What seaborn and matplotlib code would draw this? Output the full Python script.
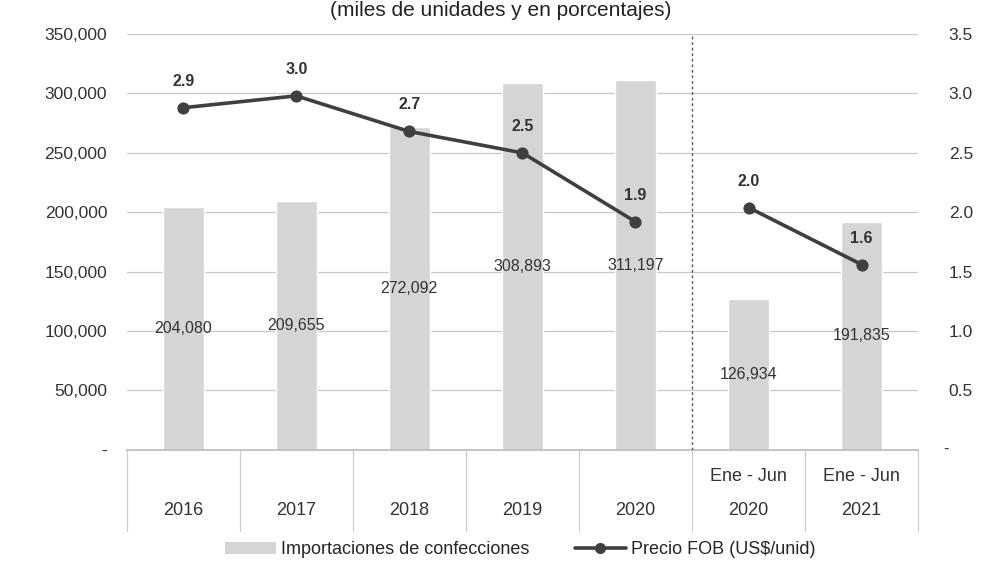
import pandas as pd
import matplotlib.pyplot as plt
import seaborn as sns
from matplotlib.lines import Line2D
from matplotlib.patches import Patch

sns.set_theme(style="white")
plt.rcParams['font.family'] = ['Liberation Sans', 'DejaVu Sans']

# datos
periodos = ['2016', '2017', '2018', '2019', '2020', 'Ene - Jun\n2020', 'Ene - Jun\n2021']
anios = ['2016', '2017', '2018', '2019', '2020', '2020', '2021']
subtitulos = ['', '', '', '', '', 'Ene - Jun', 'Ene - Jun']
importaciones = [204080, 209655, 272092, 308893, 311197, 126934, 191835]
precio_fob = [2.88, 2.98, 2.68, 2.50, 1.92, 2.04, 1.56]
tramo = ['anual', 'anual', 'anual', 'anual', 'anual', 'semestral', 'semestral']

df = pd.DataFrame({'periodo': periodos, 'importaciones': importaciones,
                   'precio': precio_fob, 'tramo': tramo})
df['pos'] = range(len(df))

fig = plt.figure(figsize=(9.82, 5.68), dpi=100)
ax = fig.add_axes([0.129, 0.208, 0.806, 0.732])

gris_barra = '#d5d5d5'
gris_linea = '#3f3f3f'
gris_texto = '#333333'

sns.barplot(data=df, x='periodo', y='importaciones', color=gris_barra, width=0.36,
            saturation=1, ax=ax, zorder=2)
ax.set_ylim(0, 350000)
ax.set_xlim(-0.5, len(df) - 0.5)
ax.set_yticks(range(0, 350001, 50000))
ax.set_yticklabels(['-'] + [f'{v:,}' for v in range(50000, 350001, 50000)],
                   fontsize=12.5, color=gris_texto)
ax.yaxis.grid(True, color='#c8c8c8', linewidth=0.9, zorder=0)
ax.set_axisbelow(True)
ax.set_xticks([])
ax.set_xlabel('')
ax.set_ylabel('')
for lado in ['top', 'right', 'left']:
    ax.spines[lado].set_visible(False)
ax.spines['bottom'].set_color('#bdbdbd')
ax.tick_params(axis='y', length=0, pad=14)

# etiquetas de las barras (centro)
for i, v in enumerate(importaciones):
    ax.text(i, v / 2, f'{v:,}', ha='center', va='center', fontsize=11.5,
            color=gris_texto, zorder=4)

# eje secundario con el precio
ax2 = ax.twinx()
for nombre, grupo in df.groupby('tramo'):
    sns.lineplot(data=grupo, x='pos', y='precio', color=gris_linea, linewidth=2.6,
                 marker='o', markersize=8, markeredgecolor=gris_linea, ax=ax2,
                 zorder=5, legend=False)
ax2.set_ylim(0, 3.5)
ax2.set_xlim(-0.5, len(df) - 0.5)
ax2.set_yticks([0.5, 1.0, 1.5, 2.0, 2.5, 3.0, 3.5])
ax2.set_yticklabels([f'{v:.1f}' for v in [0.5, 1.0, 1.5, 2.0, 2.5, 3.0, 3.5]],
                    fontsize=12.5, color=gris_texto)
ax2.text(1.035, 0.0, '-', transform=ax2.transAxes, ha='center', va='center',
         fontsize=12, color=gris_texto)
ax2.tick_params(axis='y', length=0, pad=22)
ax2.set_xlabel('')
ax2.set_ylabel('')
for lado in ['top', 'right', 'left', 'bottom']:
    ax2.spines[lado].set_visible(False)

for i, p in enumerate(precio_fob):
    ax2.text(i, p + 0.16, f'{p:.1f}', ha='center', va='bottom', fontsize=11.5,
             fontweight='bold', color=gris_texto)

# separador entre anual y semestral
ax.axvline(4.5, color='#555555', linestyle=(0, (2, 2)), linewidth=1.0, zorder=3)

# tabla inferior de categorias
trans = ax.get_xaxis_transform()
for i in range(len(df) + 1):
    ax.plot([i - 0.5, i - 0.5], [0, -0.195], transform=trans, color='#cfcfcf',
            linewidth=0.9, clip_on=False)
for i, (a, s) in enumerate(zip(anios, subtitulos)):
    ax.text(i, -0.145, a, transform=trans, ha='center', va='center', fontsize=13,
            color=gris_texto)
    if s:
        ax.text(i, -0.065, s, transform=trans, ha='center', va='center',
                fontsize=13, color=gris_texto)

# titulo (parte superior recortada en el original)
fig.text(0.51, 0.999, '(miles de unidades y en porcentajes)', ha='center', va='top',
         fontsize=15, color='#222222')

handles = [Patch(facecolor=gris_barra, edgecolor='none', label='Importaciones de confecciones'),
           Line2D([0], [0], color=gris_linea, linewidth=2.6, marker='o', markersize=7,
                  label='Precio FOB (US$/unid)')]
fig.legend(handles=handles, loc='center', bbox_to_anchor=(0.53, 0.032), ncol=2,
           frameon=False, fontsize=13, handlelength=2.8, columnspacing=2.5,
           handletextpad=0.3)

plt.savefig('out.png', dpi=100)
